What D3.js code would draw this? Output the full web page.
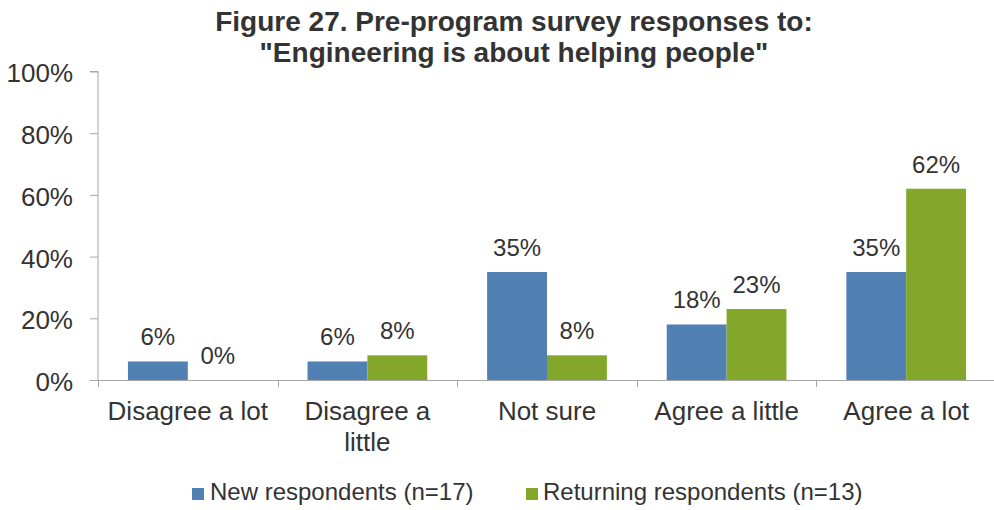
<!DOCTYPE html>
<html>
<head>
<meta charset="utf-8">
<script src="https://cdn.jsdelivr.net/npm/d3@7/dist/d3.min.js"></script>
<style>
  html, body { margin: 0; padding: 0; background: #ffffff; }
  svg { display: block; font-family: "Liberation Sans", Arial, sans-serif; }
</style>
</head>
<body>
<svg id="chart" width="994" height="510"></svg>
<script>
// Survey responses, percent of respondents
const categories = [["Disagree a lot"], ["Disagree a", "little"], ["Not sure"], ["Agree a little"], ["Agree a lot"]];
const newRespondents = [6, 6, 35, 18, 35];
const returningRespondents = [0, 8, 8, 23, 62];
const seriesNames = ["New respondents (n=17)", "Returning respondents (n=13)"];
const yTicks = [0, 20, 40, 60, 80, 100];
const titleLines = ["Figure 27. Pre-program survey responses to:", "\"Engineering is about helping people\""];

const colors = ["#5180B3", "#83A72A"];
const textColor = "#333333";
const axisColor = "#A6A6A6";

const svg = d3.select("#chart");
const plotLeft = 98, plotRight = 996, plotTop = 71.5, plotBottom = 380;

const keys = categories.map((c, i) => i);
const x = d3.scaleBand().domain(keys).range([plotLeft, plotRight]);
const y = d3.scaleLinear().domain([0, 100]).range([plotBottom, plotTop]);
const inner = d3.scaleBand().domain([0, 1]).range([0, x.bandwidth()]).paddingOuter(0.5);

// Title
svg.append("g").selectAll("text").data(titleLines).join("text")
  .attr("x", 514).attr("y", (d, i) => 31 + i * 31)
  .attr("text-anchor", "middle")
  .attr("font-size", 28).attr("font-weight", "bold")
  .attr("fill", textColor)
  .text(d => d);

// Y axis
const yAxis = svg.append("g")
  .attr("transform", `translate(${plotLeft},0)`)
  .call(d3.axisLeft(y).tickValues(yTicks).tickFormat(d => d + "%").tickSize(8).tickPadding(17));
yAxis.select(".domain").attr("stroke", axisColor).attr("d", `M-8,${y(100)}H0V${plotBottom}`);
yAxis.selectAll(".tick line").attr("stroke", axisColor);
yAxis.selectAll(".tick text").attr("font-size", 26).attr("fill", textColor)
  .attr("font-family", "Liberation Sans, Arial, sans-serif").attr("dy", "0.4em");

// Bars and value labels
const series = [newRespondents, returningRespondents];
series.forEach((vals, s) => {
  svg.append("g").selectAll("rect").data(vals).join("rect")
    .attr("x", (d, i) => x(i) + inner(s))
    .attr("y", d => y(d))
    .attr("width", inner.bandwidth())
    .attr("height", d => plotBottom - y(d))
    .attr("fill", colors[s]);
  svg.append("g").selectAll("text").data(vals).join("text")
    .attr("x", (d, i) => x(i) + inner(s) + inner.bandwidth() / 2)
    .attr("y", d => y(d) - 16)
    .attr("text-anchor", "middle")
    .attr("font-size", 24).attr("fill", textColor)
    .text(d => d + "%");
});

// X axis
const xAxisG = svg.append("g");
xAxisG.append("line").attr("x1", plotLeft - 8).attr("x2", plotRight)
  .attr("y1", plotBottom + 0.5).attr("y2", plotBottom + 0.5).attr("stroke", axisColor);
const boundaries = keys.map(k => x(k)).concat([x(keys[keys.length - 1]) + x.bandwidth()]);
xAxisG.selectAll("line.tick").data(boundaries).join("line").attr("class", "tick")
  .attr("x1", d => Math.round(d) + 0.5).attr("x2", d => Math.round(d) + 0.5)
  .attr("y1", plotBottom).attr("y2", plotBottom + 7).attr("stroke", axisColor);
const catLabels = xAxisG.selectAll("text").data(categories).join("text")
  .attr("text-anchor", "middle").attr("font-size", 26).attr("fill", textColor)
  .attr("transform", (d, i) => `translate(${x(i) + x.bandwidth() / 2},420)`);
catLabels.selectAll("tspan").data(d => d).join("tspan")
  .attr("x", 0).attr("dy", (d, j) => j === 0 ? 0 : 31).text(d => d);

// Legend
const legendItems = [{ x: 192, tx: 210 }, { x: 526, tx: 543 }];
const legend = svg.append("g");
legendItems.forEach((item, i) => {
  legend.append("rect").attr("x", item.x).attr("y", 488).attr("width", 12).attr("height", 12).attr("fill", colors[i]);
  legend.append("text").attr("x", item.tx).attr("y", 500).attr("font-size", 24).attr("fill", textColor).text(seriesNames[i]);
});
</script>
</body>
</html>
